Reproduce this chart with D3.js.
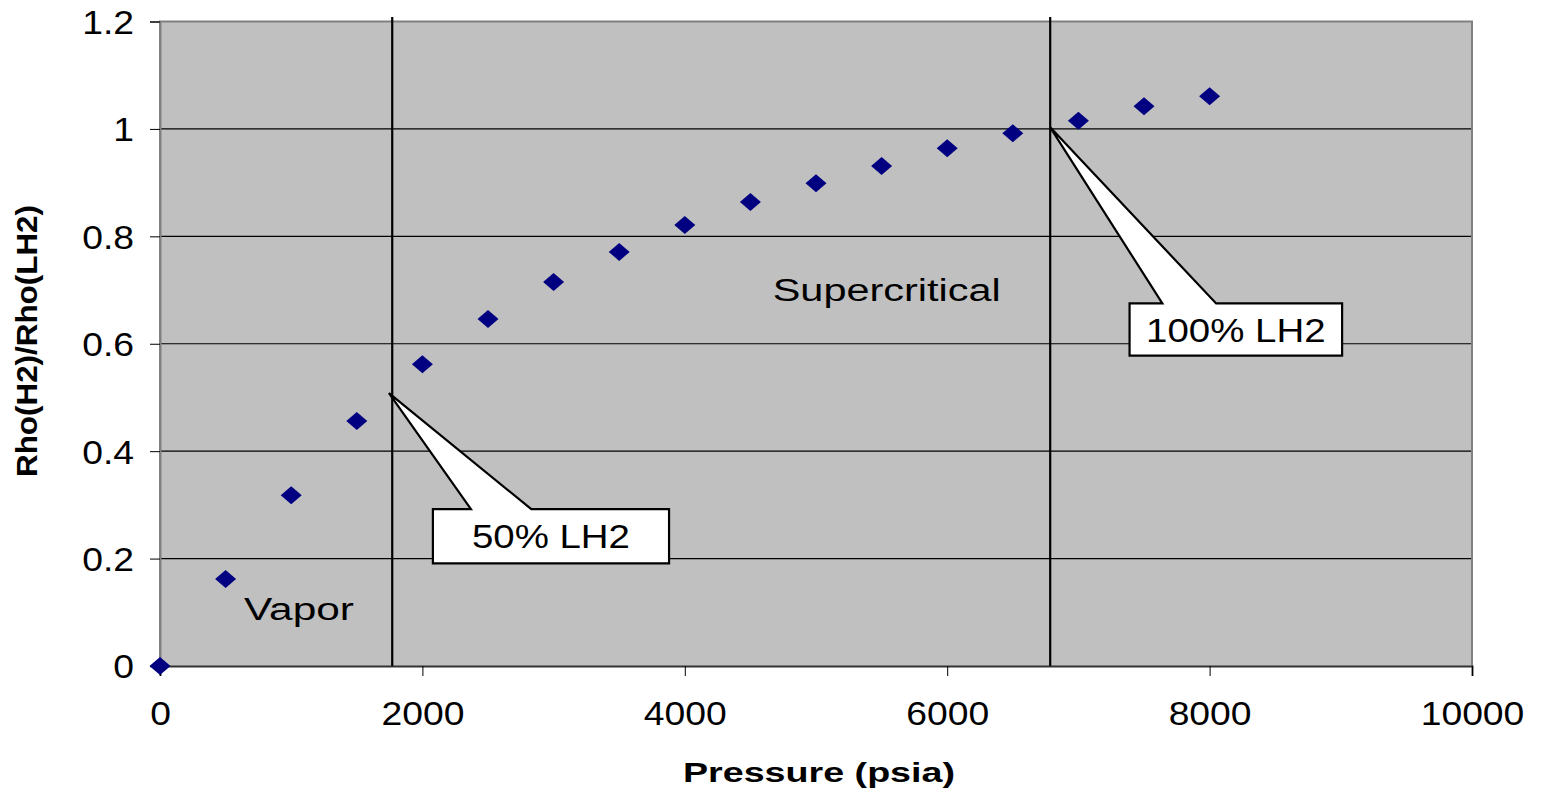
<!DOCTYPE html>
<html><head><meta charset="utf-8">
<script src="https://cdn.jsdelivr.net/npm/d3@7"></script>
<style>body{margin:0;background:#fff}svg{display:block}text{font-family:"Liberation Sans",Arial,sans-serif}</style>
</head><body><svg id="c" width="1542" height="792"></svg>
<script>
const pressures = [0,500,1000,1500,2000,2500,3000,3500,4000,4500,5000,5500,6000,6500,7000,7500,8000];
const ratios = [0,0.162,0.318,0.456,0.562,0.646,0.715,0.771,0.821,0.864,0.899,0.931,0.964,0.992,1.015,1.042,1.061];
const xTicks = [0,2000,4000,6000,8000,10000];
const yTicks = [0,0.2,0.4,0.6,0.8,1,1.2];
const boundaries = [1770, 6785];
const callouts = [
  {label:"50% LH2", px:1745, py:0.508, bx0:2080, bx1:3880, by0:0.292, by1:0.191, b0:2370, b1:2830},
  {label:"100% LH2", px:6785, py:1.003, bx0:7390, bx1:9010, by0:0.675, by1:0.578, b0:7640, b1:8050}
];
const regionLabels = [{t:"Vapor", x:640, y:0.085},{t:"Supercritical", x:4670, y:0.68}];

const STRETCH = 1.13;
function stretch(sel){
  sel.each(function(){
    const w = this.getComputedTextLength();
    d3.select(this).attr("textLength", w*STRETCH).attr("lengthAdjust","spacingAndGlyphs");
  });
}

const svg = d3.select("#c");
const L=160,R=1472,T=21.5,B=666;
const x = d3.scaleLinear().domain([0,10000]).range([L,R]);
const y = d3.scaleLinear().domain([0,1.2]).range([B,T]);

svg.append("rect").attr("x",L).attr("y",T).attr("width",R-L).attr("height",B-T).attr("fill","#c0c0c0");
svg.append("g").selectAll("line").data(yTicks.filter(d=>d>0&&d<1.2)).join("line")
  .attr("x1",L).attr("x2",R).attr("y1",d=>y(d)).attr("y2",d=>y(d)).attr("stroke","#000").attr("stroke-width",1.2);
svg.append("path").attr("d",`M${L},${B}V${T}H${R}V${B}`).attr("fill","none").attr("stroke","#808080").attr("stroke-width",2);

const yAxis = d3.axisLeft(y).tickValues(yTicks).tickSize(10).tickPadding(16).tickFormat(d=>String(+d.toFixed(1)));
const gy = svg.append("g").attr("transform",`translate(${L},0)`).call(yAxis);
gy.attr("font-size",null).attr("font-family",null);
gy.select(".domain").attr("stroke","#808080").attr("stroke-width",2);
gy.selectAll(".tick line").attr("stroke","#000");
gy.selectAll("text").attr("font-size",33).attr("fill","#000").attr("dy","0.36em").call(stretch);
const xAxis = d3.axisBottom(x).tickValues(xTicks).tickSize(10).tickPadding(26).tickFormat(d=>String(d));
const gx = svg.append("g").attr("transform",`translate(0,${B})`).call(xAxis);
gx.attr("font-size",null).attr("font-family",null);
gx.select(".domain").attr("stroke","#333").attr("stroke-width",2);
gx.selectAll(".tick line").attr("stroke","#000");
gx.selectAll("text").attr("font-size",33).attr("fill","#000").call(stretch);

svg.append("g").selectAll("line").data(boundaries).join("line")
  .attr("x1",d=>x(d)).attr("x2",d=>x(d)).attr("y1",17).attr("y2",B).attr("stroke","#000").attr("stroke-width",2.2);

const cg = svg.append("g").selectAll("g").data(callouts).join("g");
cg.append("path").attr("d",c=>{
  const X0=x(c.bx0),X1=x(c.bx1),Y0=y(c.by0),Y1=y(c.by1);
  return `M${X0},${Y0}H${x(c.b0)}L${x(c.px)},${y(c.py)}L${x(c.b1)},${Y0}H${X1}V${Y1}H${X0}Z`;
}).attr("fill","#fff").attr("stroke","#000").attr("stroke-width",2.2).attr("stroke-linejoin","miter");
cg.append("text").attr("x",c=>(x(c.bx0)+x(c.bx1))/2).attr("y",c=>(y(c.by0)+y(c.by1))/2+12)
  .attr("text-anchor","middle").attr("font-size",34).text(c=>c.label).call(stretch);

svg.append("g").selectAll("text").data(regionLabels).join("text")
  .attr("x",d=>x(d.x)).attr("y",d=>y(d.y)).attr("font-size",31).text(d=>d.t)
  .attr("textLength",d=>d.t==="Vapor"?110:228).attr("lengthAdjust","spacingAndGlyphs");

const diamond = "M0,-9L10.5,0L0,9L-10.5,0Z";
svg.append("g").selectAll("path").data(pressures.map((p,i)=>[p,ratios[i]])).join("path")
  .attr("d",diamond).attr("transform",d=>`translate(${x(d[0])},${y(d[1])})`).attr("fill","#000080");

svg.append("text").attr("x",819).attr("y",782).attr("text-anchor","middle").attr("font-weight","bold")
  .attr("font-size",28).attr("textLength",272).attr("lengthAdjust","spacingAndGlyphs").text("Pressure (psia)");
svg.append("text").attr("transform","translate(37,341) rotate(-90)").attr("text-anchor","middle").attr("font-weight","bold")
  .attr("font-size",29).attr("textLength",272).attr("lengthAdjust","spacingAndGlyphs").attr("x",0).attr("y",0).text("Rho(H2)/Rho(LH2)");
</script></body></html>
